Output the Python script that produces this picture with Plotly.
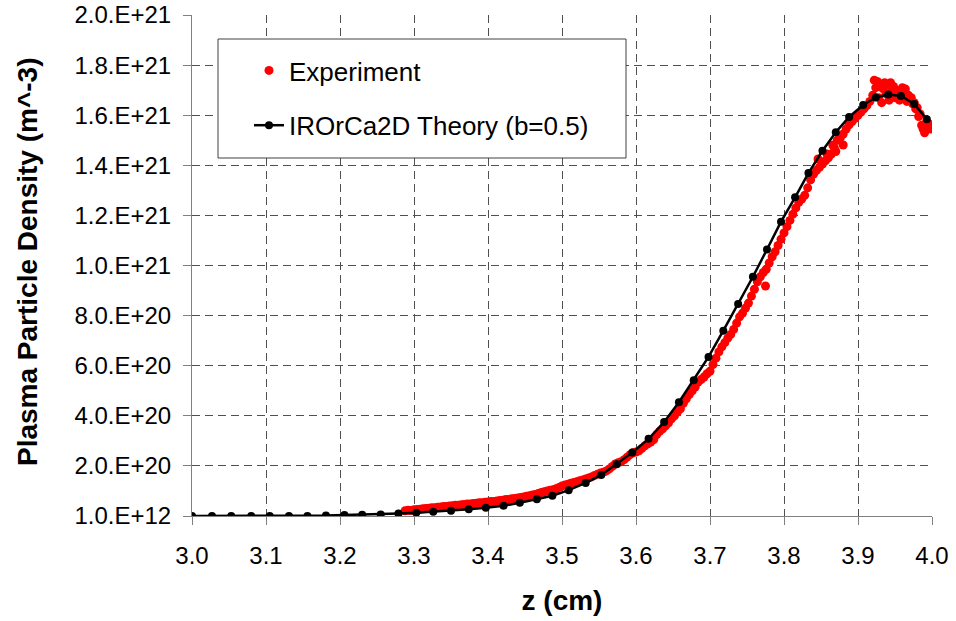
import plotly.graph_objects as go

# ---------------- data ----------------
# Theory (IROrCa2D, b=0.5): z in cm, density in units of 1e20 m^-3
theory_z = [3.000, 3.027, 3.053, 3.080, 3.105, 3.131, 3.156, 3.181, 3.206, 3.230,
            3.255, 3.279, 3.303, 3.326, 3.350, 3.374, 3.397, 3.421, 3.443, 3.466,
            3.487, 3.509, 3.532, 3.553, 3.574, 3.595, 3.617, 3.638, 3.658, 3.678,
            3.698, 3.718, 3.738, 3.758, 3.777, 3.796, 3.815, 3.833, 3.852, 3.870,
            3.888, 3.907, 3.924, 3.941, 3.958, 3.976, 3.993]
theory_n = [0.00, 0.00, 0.00, 0.00, 0.00, 0.00, 0.00, 0.02, 0.04, 0.05,
            0.06, 0.10, 0.13, 0.17, 0.21, 0.27, 0.33, 0.41, 0.53, 0.67,
            0.81, 1.03, 1.32, 1.64, 2.07, 2.53, 3.08, 3.75, 4.54, 5.42,
            6.35, 7.40, 8.46, 9.55, 10.64, 11.75, 12.72, 13.69, 14.58, 15.32,
            15.93, 16.41, 16.71, 16.83, 16.77, 16.45, 15.84]

# Experiment: z in cm, density in units of 1e20 m^-3
exp_z = [3.288, 3.292, 3.296, 3.300, 3.304, 3.308, 3.312, 3.316, 3.320, 3.324,
         3.328, 3.332, 3.336, 3.340, 3.344, 3.348, 3.352, 3.356, 3.360, 3.364,
         3.368, 3.372, 3.376, 3.380, 3.384, 3.388, 3.392, 3.396, 3.400, 3.404,
         3.408, 3.412, 3.416, 3.420, 3.424, 3.428, 3.432, 3.436, 3.440, 3.444,
         3.448, 3.452, 3.456, 3.460, 3.464, 3.468, 3.472, 3.476, 3.480, 3.484,
         3.488, 3.492, 3.496, 3.500, 3.504, 3.508, 3.512, 3.516, 3.520, 3.524,
         3.528, 3.532, 3.536, 3.540, 3.544, 3.548, 3.552, 3.556, 3.560, 3.564,
         3.568, 3.572, 3.576, 3.580, 3.584, 3.588, 3.592, 3.596, 3.600, 3.604,
         3.608, 3.612, 3.616, 3.620, 3.624, 3.628, 3.632, 3.636, 3.640, 3.644,
         3.648, 3.652, 3.656, 3.660, 3.664, 3.668, 3.672, 3.676, 3.680, 3.684,
         3.688, 3.692, 3.696, 3.700, 3.704, 3.708, 3.712, 3.716, 3.720, 3.724,
         3.728, 3.732, 3.736, 3.740, 3.744, 3.748, 3.752, 3.756, 3.760, 3.764,
         3.768, 3.772, 3.775, 3.776, 3.780, 3.784, 3.788, 3.792, 3.796, 3.800,
         3.804, 3.808, 3.812, 3.816, 3.820, 3.824, 3.828, 3.832, 3.836, 3.840,
         3.844, 3.846, 3.848, 3.852, 3.856, 3.858, 3.860, 3.864, 3.866, 3.868,
         3.870, 3.872, 3.876, 3.880, 3.880, 3.884, 3.888, 3.892, 3.896, 3.900,
         3.904, 3.908, 3.912, 3.916, 3.920, 3.922, 3.924, 3.926, 3.928, 3.930,
         3.932, 3.934, 3.936, 3.938, 3.940, 3.942, 3.944, 3.946, 3.948, 3.950,
         3.952, 3.954, 3.956, 3.958, 3.960, 3.962, 3.964, 3.966, 3.968, 3.970,
         3.972, 3.974, 3.976, 3.978, 3.980, 3.982, 3.984, 3.986, 3.988, 3.990,
         3.992, 3.994, 3.996, 3.998, 4.000]
exp_n = [0.21, 0.23, 0.22, 0.25, 0.26, 0.27, 0.29, 0.30, 0.31, 0.33,
         0.33, 0.35, 0.36, 0.38, 0.38, 0.40, 0.41, 0.43, 0.43, 0.45,
         0.46, 0.48, 0.48, 0.50, 0.51, 0.53, 0.53, 0.55, 0.56, 0.58,
         0.58, 0.60, 0.62, 0.63, 0.66, 0.66, 0.69, 0.70, 0.72, 0.74,
         0.76, 0.79, 0.81, 0.84, 0.86, 0.90, 0.94, 0.97, 1.00, 1.03,
         1.05, 1.09, 1.14, 1.20, 1.24, 1.27, 1.31, 1.34, 1.37, 1.41,
         1.44, 1.48, 1.52, 1.56, 1.62, 1.67, 1.72, 1.75, 1.80, 1.88,
         1.98, 2.08, 2.13, 2.17, 2.25, 2.35, 2.45, 2.52, 2.55, 2.60,
         2.70, 2.80, 2.88, 2.95, 3.05, 3.25, 3.38, 3.48, 3.60, 3.72,
         3.88, 4.00, 4.15, 4.28, 4.50, 4.68, 4.85, 5.00, 5.15, 5.35,
         5.45, 5.55, 5.68, 5.78, 6.05, 6.30, 6.55, 6.75, 6.92, 7.10,
         7.25, 7.45, 7.70, 7.95, 8.10, 8.30, 8.50, 8.78, 9.05, 9.35,
         9.55, 9.72, 9.18, 9.85, 10.10, 10.35, 10.55, 10.80, 11.05, 11.30,
         11.55, 11.80, 12.05, 12.30, 12.52, 12.65, 12.80, 13.10, 13.42, 13.65,
         13.80, 14.25, 13.92, 14.05, 14.18, 14.45, 14.30, 14.45, 14.80, 14.70,
         14.55, 15.00, 15.10, 15.25, 14.81, 15.45, 15.62, 15.75, 15.88, 16.00,
         16.12, 16.25, 16.38, 16.55, 16.80, 17.40, 17.10, 17.35, 16.70, 17.25,
         16.50, 17.05, 17.30, 16.85, 17.20, 16.60, 17.30, 16.95, 17.15, 16.70,
         17.00, 16.80, 16.60, 16.90, 17.10, 16.75, 17.05, 16.55, 16.80, 16.60,
         16.70, 16.45, 16.50, 16.25, 16.30, 15.95, 16.05, 15.60, 15.45, 15.30,
         15.70, 15.50, 15.65, 15.45, 15.55]

UNIT = 1e20
x_ticks = [3.0, 3.1, 3.2, 3.3, 3.4, 3.5, 3.6, 3.7, 3.8, 3.9, 4.0]
x_ticklabels = ["3.0", "3.1", "3.2", "3.3", "3.4", "3.5", "3.6", "3.7", "3.8", "3.9", "4.0"]
y_ticks = [1e12, 2e20, 4e20, 6e20, 8e20, 1e21, 1.2e21, 1.4e21, 1.6e21, 1.8e21, 2e21]
y_ticklabels = ["1.0.E+12", "2.0.E+20", "4.0.E+20", "6.0.E+20", "8.0.E+20", "1.0.E+21",
                "1.2.E+21", "1.4.E+21", "1.6.E+21", "1.8.E+21", "2.0.E+21"]

FONT = "Liberation Sans, Arial, sans-serif"
AXIS_GRAY = "#808080"
GRID = "#505050"

fig = go.Figure()
fig.add_trace(go.Scatter(
    x=exp_z, y=[v * UNIT for v in exp_n], mode="markers", name="Experiment",
    marker=dict(color="#FF0000", size=9, line=dict(width=0)),
    legendgroup="a",
))
fig.add_trace(go.Scatter(
    x=theory_z, y=[v * UNIT for v in theory_n], mode="lines+markers",
    name="IROrCa2D Theory (b=0.5)",
    line=dict(color="#000000", width=2.5),
    marker=dict(color="#000000", size=8),
    legendgroup="b",
))

fig.update_xaxes(
    range=[3.0, 4.0], tickvals=x_ticks, ticktext=x_ticklabels, automargin=False,
    showline=True, linecolor=AXIS_GRAY, linewidth=1,
    ticks="outside", ticklen=8, tickcolor=AXIS_GRAY,
    showgrid=True, gridcolor=GRID, gridwidth=1, griddash="8px,5px",
    zeroline=False, tickfont=dict(family=FONT, size=24, color="#000"),
    ticklabelstandoff=10,
    title=dict(text="<b>z (cm)</b>", font=dict(family=FONT, size=28, color="#000"), standoff=22),
)
fig.update_yaxes(
    range=[0, 2e21], tickvals=y_ticks, ticktext=y_ticklabels, automargin=False,
    showline=True, linecolor=AXIS_GRAY, linewidth=1,
    ticks="outside", ticklen=8, tickcolor=AXIS_GRAY,
    showgrid=True, gridcolor=GRID, gridwidth=1, griddash="8px,5px",
    zeroline=False, tickfont=dict(family=FONT, size=24, color="#000"),
    ticklabelstandoff=7,
)

# overlay axes that draw the inner half of the crossing tick marks
fig.update_layout(
    xaxis2=dict(overlaying="x", anchor="y", side="bottom", range=[3.0, 4.0],
                tickvals=x_ticks, showticklabels=False, ticks="inside", ticklen=8,
                tickcolor=AXIS_GRAY, showgrid=False, showline=False, zeroline=False,
                automargin=False),
    yaxis2=dict(overlaying="y", anchor="x", side="left", range=[0, 2e21],
                tickvals=y_ticks, showticklabels=False, ticks="inside", ticklen=8,
                tickcolor=AXIS_GRAY, showgrid=False, showline=False, zeroline=False,
                automargin=False),
)

# legend frame (white box with dark border)
fig.add_shape(type="rect", xref="paper", yref="paper",
              x0=(218 - 192) / 740, x1=(626 - 192) / 740,
              y0=(516 - 158) / 501, y1=(516 - 39) / 501,
              line=dict(color="#404040", width=1), fillcolor="white", layer="above")

fig.add_annotation(
    text="<b>Plasma Particle Density (m^-3)</b>", textangle=-90,
    xref="paper", yref="paper", x=(27 - 192) / 740, y=(516 - 262) / 501,
    xanchor="center", yanchor="middle", showarrow=False,
    font=dict(family=FONT, size=28, color="#000"),
)

fig.update_layout(
    width=956, height=621,
    margin=dict(l=192, r=24, t=15, b=105, autoexpand=False),
    paper_bgcolor="white", plot_bgcolor="white",
    font=dict(family=FONT, color="#000"),
    showlegend=True,
    legend=dict(
        x=(249 - 192) / 740, y=(516 - 47) / 501, xanchor="left", yanchor="top",
        bgcolor="rgba(0,0,0,0)", borderwidth=0,
        font=dict(family=FONT, size=26, color="#000"),
        tracegroupgap=18,
    ),
)

fig.write_html("out.html", config={"displayModeBar": False},
               post_script="document.body.style.margin='0px';")
